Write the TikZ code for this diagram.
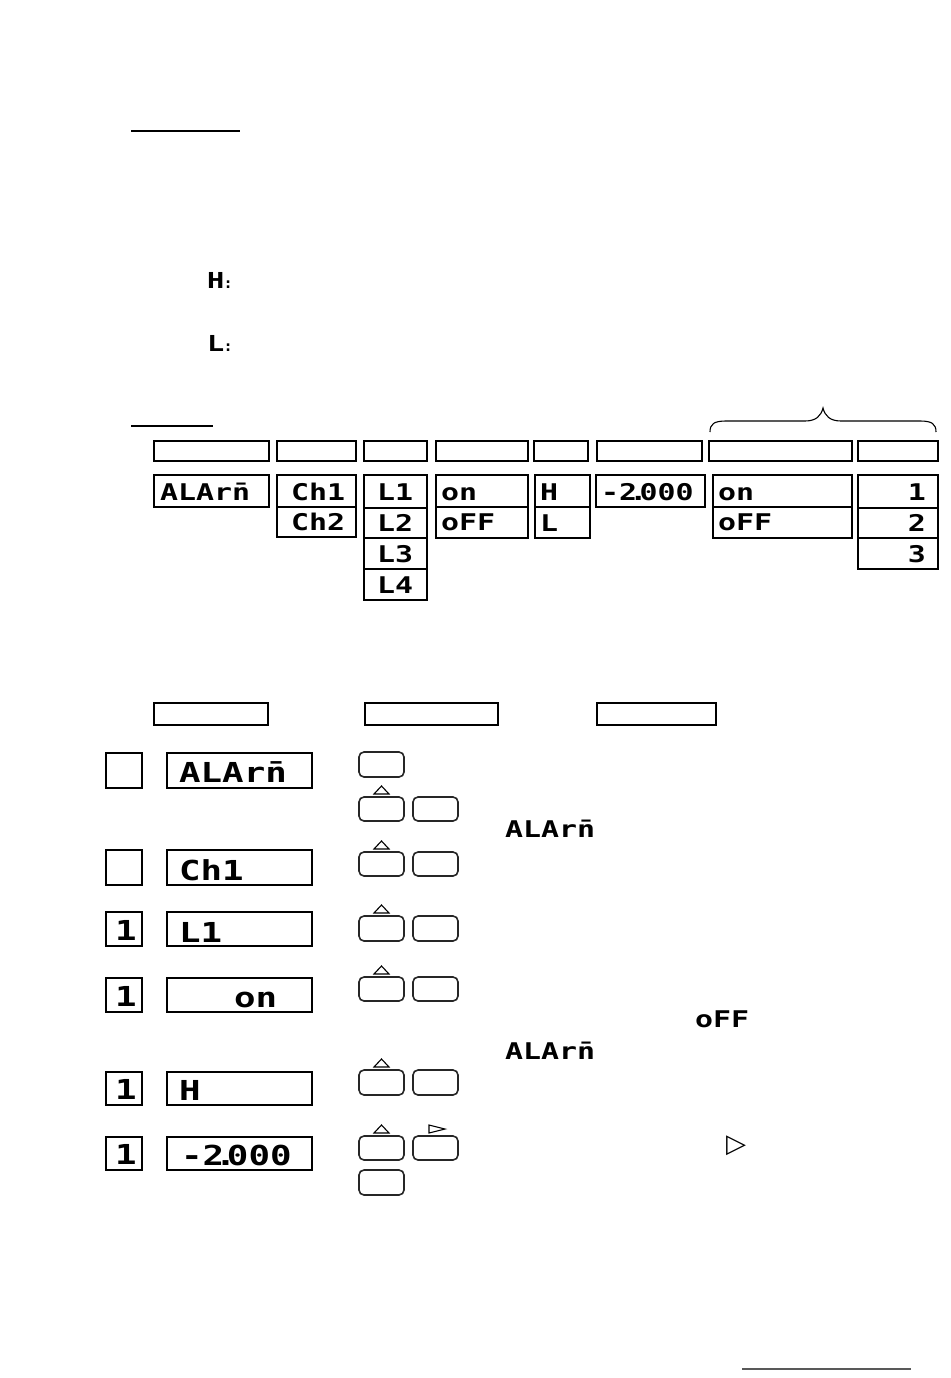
\documentclass[tikz,border=0pt]{standalone}
\usepackage{fontspec}
\setmainfont{Liberation Serif}
\newfontfamily\segfont[FakeStretch=1.3]{DejaVu Sans Mono}
\newfontfamily\symfont{DejaVu Sans}
\tikzset{
  boxst/.style={draw=black, line width=1.4pt, inner sep=0pt, outer sep=0pt},
  btnst/.style={draw=black!85, line width=1.6pt, rounded corners=5pt, inner sep=0pt, outer sep=0pt},
  segT/.style={inner sep=0pt, font=\segfont\bfseries\fontsize{23}{24}\selectfont},
  segS/.style={inner sep=0pt, font=\segfont\bfseries\fontsize{27.5}{28}\selectfont},
  segI/.style={inner sep=0pt, font=\segfont\bfseries\fontsize{23}{24}\selectfont},
  segH/.style={inner sep=0pt, font=\segfont\bfseries\fontsize{22}{22}\selectfont},
  tri/.style={draw=black, line width=1.1pt, line join=miter},
  uline/.style={line width=2pt},
}
\newcommand\mkbox[6]{\node[#1, minimum width={(#5-#3)*1pt}, minimum height={(#6-#4)*1pt}] (#2) at ({(#3+#5)/2},{(#4+#6)/2}) {};}
\newcommand\uptri[1]{\draw[tri] ([xshift=-7.5pt,yshift=3pt]#1.north) -- ++(7.5pt,8pt) -- ++(7.5pt,-8pt) -- cycle;}
\begin{document}
\begin{tikzpicture}[x=1pt,y=-1pt]
\fill[white] (0,0) rectangle (950,1378);
\useasboundingbox (0,0) rectangle (950,1378);

% underlines
\coordinate (u1a) at (131,131);
\coordinate (u1b) at (240,131);
\draw[uline] (u1a) -- (u1b);
\coordinate (u2a) at (131,426);
\coordinate (u2b) at (213,426);
\draw[uline] (u2a) -- (u2b);
\coordinate (u3a) at (742,1369);
\coordinate (u3b) at (911,1369);
\draw[line width=2.5pt, draw=black!65] (u3a) -- (u3b);

% H: and L:
\node[segH, anchor=base west] (hlab) at (207,288) {H\kern1pt{\symfont\fontsize{14}{14}\selectfont:}};
\node[segH, anchor=base west] (llab) at (207,351) {L\kern1pt{\symfont\fontsize{14}{14}\selectfont:}};

% brace
\draw[line width=1.1pt] (710,432) coordinate (bra) .. controls (710,424) and (714,421) .. (726,421)
  -- (805,421) .. controls (816,421) and (821,416) .. (823,408) coordinate (brtip)
  .. controls (825,416) and (830,421) .. (841,421) -- (920,421)
  .. controls (932,421) and (936,424) .. (936,432) coordinate (brb);

% table headers
\mkbox{boxst}{h1}{154}{441}{269}{461}
\mkbox{boxst}{h2}{277}{441}{356}{461}
\mkbox{boxst}{h3}{364}{441}{427}{461}
\mkbox{boxst}{h4}{436}{441}{528}{461}
\mkbox{boxst}{h5}{534}{441}{588}{461}
\mkbox{boxst}{h6}{597}{441}{702}{461}
\mkbox{boxst}{h7}{709}{441}{852}{461}
\mkbox{boxst}{h8}{858}{441}{938}{461}

% table values
\mkbox{boxst}{v1}{154}{475}{269}{507}
\mkbox{boxst}{v2a}{277}{475}{356}{507}
\mkbox{boxst}{v2b}{277}{507}{356}{537}
\mkbox{boxst}{v3a}{364}{475}{427}{508}
\mkbox{boxst}{v3b}{364}{508}{427}{538}
\mkbox{boxst}{v3c}{364}{538}{427}{569}
\mkbox{boxst}{v3d}{364}{569}{427}{600}
\mkbox{boxst}{v4a}{436}{475}{528}{507}
\mkbox{boxst}{v4b}{436}{507}{528}{538}
\mkbox{boxst}{v5a}{535}{475}{590}{507}
\mkbox{boxst}{v5b}{535}{507}{590}{538}
\mkbox{boxst}{v6}{596}{475}{705}{507}
\mkbox{boxst}{v7a}{713}{475}{852}{507}
\mkbox{boxst}{v7b}{713}{507}{852}{538}
\mkbox{boxst}{v8a}{858}{475}{938}{508}
\mkbox{boxst}{v8b}{858}{508}{938}{538}
\mkbox{boxst}{v8c}{858}{538}{938}{569}

\node[segT, anchor=base west] (t1) at (160,500) {ALArn̄};
\node[segT, anchor=base west] (t2a) at (291,500) {Ch1};
\node[segT, anchor=base west] (t2b) at (291,530) {Ch2};
\node[segT, anchor=base west] (t3a) at (377,500) {L1};
\node[segT, anchor=base west] (t3b) at (377,531) {L2};
\node[segT, anchor=base west] (t3c) at (377,562) {L3};
\node[segT, anchor=base west] (t3d) at (377,593) {L4};
\node[segT, anchor=base west] (t4a) at (441,500) {on};
\node[segT, anchor=base west] (t4b) at (441,530) {oFF};
\node[segT, anchor=base west] (t5a) at (540,500) {H};
\node[segT, anchor=base west] (t5b) at (540,531) {L};
\node[segT, anchor=base west] (t6) at (601,500) {-2\makebox[0.1em]{.}000};
\node[segT, anchor=base west] (t7a) at (718,500) {on};
\node[segT, anchor=base west] (t7b) at (718,530) {oFF};
\node[segT, anchor=base east] (t8a) at (926,500) {1};
\node[segT, anchor=base east] (t8b) at (926,531) {2};
\node[segT, anchor=base east] (t8c) at (926,562) {3};

% second headers
\mkbox{boxst}{g1}{154}{703}{268}{725}
\mkbox{boxst}{g2}{365}{703}{498}{725}
\mkbox{boxst}{g3}{597}{703}{716}{725}

% step squares and displays
\mkbox{boxst}{sq1}{106}{753}{142}{788}
\mkbox{boxst}{sq2}{106}{850}{142}{885}
\mkbox{boxst}{sq3}{106}{912}{142}{946}
\mkbox{boxst}{sq4}{106}{978}{142}{1012}
\mkbox{boxst}{sq5}{106}{1072}{142}{1105}
\mkbox{boxst}{sq6}{106}{1137}{142}{1170}
\mkbox{boxst}{d1}{167}{753}{312}{788}
\mkbox{boxst}{d2}{167}{850}{312}{885}
\mkbox{boxst}{d3}{167}{912}{312}{946}
\mkbox{boxst}{d4}{167}{978}{312}{1012}
\mkbox{boxst}{d5}{167}{1072}{312}{1105}
\mkbox{boxst}{d6}{167}{1137}{312}{1170}

\node[segS, anchor=base] (n3) at (126,940) {1};
\node[segS, anchor=base] (n4) at (126,1006) {1};
\node[segS, anchor=base] (n5) at (126,1099) {1};
\node[segS, anchor=base] (n6) at (126,1164) {1};

\node[segS, anchor=base west] (s1) at (179,782) {ALArn̄};
\node[segS, anchor=base west] (s2) at (179,880) {Ch1};
\node[segS, anchor=base west] (s3) at (179,942) {L1};
\node[segS, anchor=base west] (s4) at (234,1007) {on};
\node[segS, anchor=base west] (s5) at (179,1100) {H};
\node[segS, anchor=base west] (s6) at (181,1165) {-2\makebox[0.1em]{.}000};

% buttons
\mkbox{btnst}{b1}{359}{752}{404}{777}
\mkbox{btnst}{b2a}{359}{797}{404}{821}
\mkbox{btnst}{b2b}{413}{797}{458}{821}
\mkbox{btnst}{b3a}{359}{852}{404}{876}
\mkbox{btnst}{b3b}{413}{852}{458}{876}
\mkbox{btnst}{b4a}{359}{916}{404}{941}
\mkbox{btnst}{b4b}{413}{916}{458}{941}
\mkbox{btnst}{b5a}{359}{977}{404}{1001}
\mkbox{btnst}{b5b}{413}{977}{458}{1001}
\mkbox{btnst}{b6a}{359}{1070}{404}{1095}
\mkbox{btnst}{b6b}{413}{1070}{458}{1095}
\mkbox{btnst}{b7a}{359}{1136}{404}{1160}
\mkbox{btnst}{b7b}{413}{1136}{458}{1160}
\mkbox{btnst}{b8}{359}{1170}{404}{1195}

\uptri{b2a}
\uptri{b3a}
\uptri{b4a}
\uptri{b5a}
\uptri{b6a}
\uptri{b7a}
\draw[tri] ([xshift=-6.5pt,yshift=3pt]b7b.north) -- ++(0pt,8pt) -- ++(16pt,-4pt) -- cycle;

% inline glyphs
\node[segI, anchor=base west] (i1) at (505,837) {ALArn̄};
\node[segI, anchor=base west] (i2) at (695,1027) {oFF};
\node[segI, anchor=base west] (i3) at (505,1059) {ALArn̄};
\node[inner sep=0pt, anchor=center, font=\symfont\fontsize{26}{26}\selectfont] (rt) at (736,1146) {▷};
\end{tikzpicture}
\end{document}
